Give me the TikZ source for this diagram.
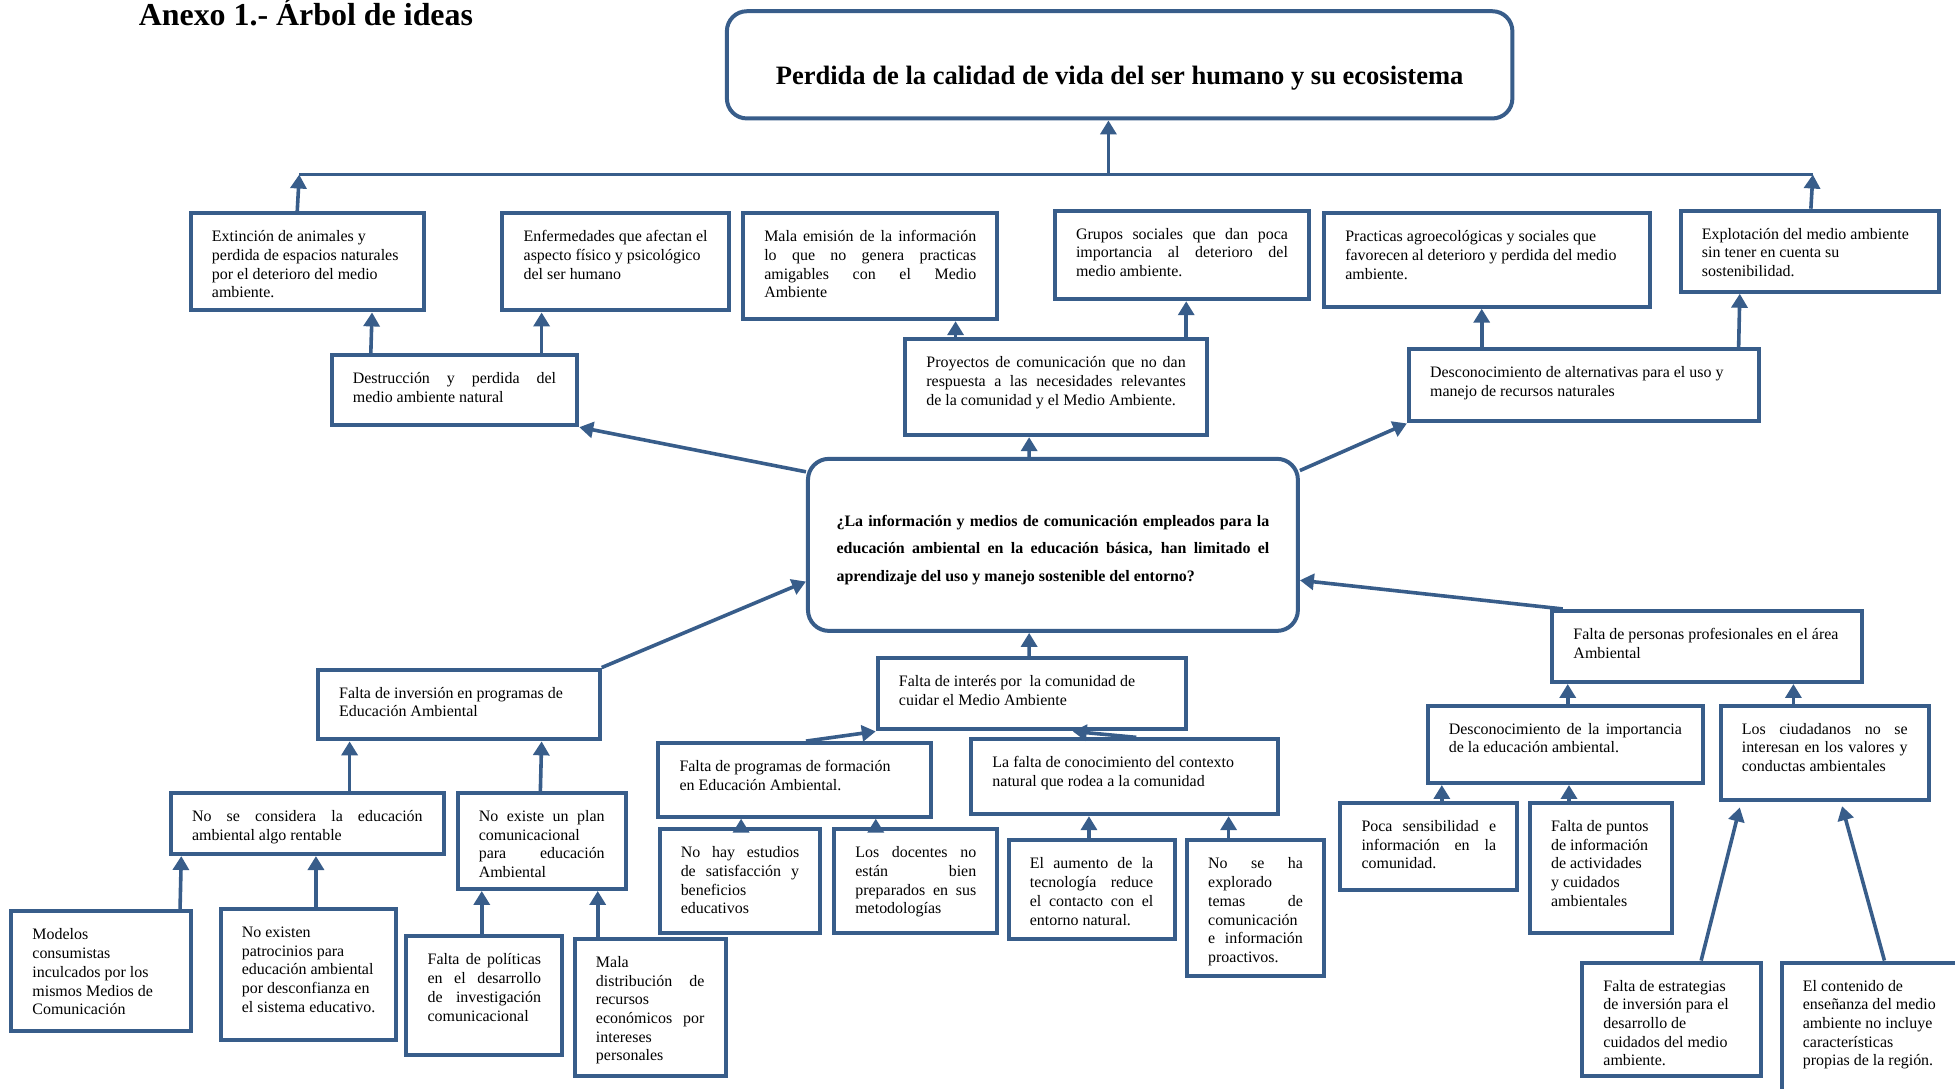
\documentclass[tikz,border=0pt]{standalone}
\usepackage{fontspec}
\setmainfont{Liberation Serif}
\usetikzlibrary{arrows.meta,calc}
\definecolor{bl}{HTML}{385D8A}
\newcommand\J[1]{\makebox[\linewidth][s]{#1}\\}
\newcommand\Lq[1]{\makebox[\linewidth][l]{#1}\\}
\newcommand\Le[1]{\makebox[\linewidth][l]{#1}}
\newcommand\bodysize{\fontsize{8}{9.375}\selectfont}
\tikzset{
  bxs/.style={draw=bl, line width=2pt, fill=white, inner sep=0pt},
  arr/.style={draw=bl, line width=1.8pt, -{Triangle[length=7pt,width=8pt]}},
  ln/.style={draw=bl, line width=1.8pt}
}
\newcommand\bx[6]{%
  \pgfmathsetmacro\bxW{(#4-#2)*0.625}%
  \pgfmathsetmacro\bxH{(#5-#3)*0.625}%
  \pgfmathsetmacro\bxT{\bxW-34*0.625}%
  \node[bxs, minimum width=\bxW pt, minimum height=\bxH pt] (#1) at ({(#2+#4)/2},{(#3+#5)/2})
    {\parbox[c][\bxH pt][t]{\bxT pt}{\bodysize\lineskiplimit=-5pt\lineskip=0pt\relax\rule{0pt}{14.3pt}#6}};%
}
\begin{document}
\begin{tikzpicture}[x=0.625pt, y=-0.625pt]
\clip (0,0) rectangle (1568,873);
\fill[white] (0,0) rectangle (1568,873);

% title
\node[anchor=base west, inner sep=0pt, font={\bfseries\fontsize{16}{19}\selectfont}] (title) at (111,20.5) {Anexo 1.- Árbol de ideas};

% top effect
\node[bxs, rounded corners=10pt, minimum width=393.75pt, minimum height=53.75pt] (top) at (898,52)
  {\parbox[c][53.75pt][t]{385pt}{\centering\rule{0pt}{36.9pt}\bfseries\fontsize{13.3}{16}\selectfont Perdida de la calidad de vida del ser humano y su ecosistema}};

% central problem
\node[bxs, rounded corners=10.5pt, minimum width=245.6pt, minimum height=86.25pt] (cen) at (844.5,437)
  {\parbox[c][86.25pt][t]{216.9pt}{\bfseries\fontsize{8}{14}\selectfont\lineskiplimit=-5pt\relax\rule{0pt}{33.7pt}\J{¿La información y medios de comunicación empleados para la}\J{educación ambiental en la educación básica, han limitado el}\Le{aprendizaje del uso y manejo sostenible del entorno?}}};

% effects row
\bx{b1}{153}{171}{340}{249}{\Lq{Extinción de animales y}\Lq{perdida de espacios naturales}\Lq{por el deterioro del medio}\Le{ambiente.}}
\bx{b2}{403}{171}{585}{249}{\Lq{Enfermedades que afectan el}\Lq{aspecto físico y psicológico}\Le{del ser humano}}
\bx{b3}{596}{171}{800}{256}{\J{Mala emisión de la información}\J{lo que no genera practicas}\J{amigables con el Medio}\Le{Ambiente}}
\bx{b4}{846}{169}{1050}{240}{\J{Grupos sociales que dan poca}\J{importancia al deterioro del}\Le{medio ambiente.}}
\bx{b5}{1062}{171}{1323}{246}{\Lq{Practicas agroecológicas y sociales que}\Lq{favorecen al deterioro y perdida del medio}\Le{ambiente.}}
\bx{b6}{1348}{169}{1555}{234}{\Lq{Explotación del medio ambiente}\Lq{sin tener en cuenta su}\Le{sostenibilidad.}}

% second row
\bx{destr}{266}{285}{463}{341}{\J{Destrucción y perdida del}\Le{medio ambiente natural}}
\bx{proy}{726}{272}{968}{349}{\J{Proyectos de comunicación que no dan}\J{respuesta a las necesidades relevantes}\Le{de la comunidad y el Medio Ambiente.}}
\bx{desalt}{1130}{280}{1411}{338}{\Lq{Desconocimiento de alternativas para el uso y}\Le{manejo de recursos naturales}}

% causes left
\bx{inv}{255}{537}{481}{593}{\Lq{Falta de inversión en programas de}\Le{Educación Ambiental}}
\bx{nocons}{137}{636}{356}{685}{\J{No se considera la educación}\Le{ambiental algo rentable}}
\bx{noplan}{367}{636}{502}{713}{\J{No existe un plan}\Lq{comunicacional}\J{para educación}\Le{Ambiental}}
\bx{model}{9}{731}{153}{827}{\Lq{Modelos}\Lq{consumistas}\Lq{inculcados por los}\Lq{mismos Medios de}\Le{Comunicación}}
\bx{patro}{177}{729}{318}{834}{\Lq{No existen}\Lq{patrocinios para}\Lq{educación ambiental}\Lq{por desconfianza en}\Le{el sistema educativo.}}
\bx{polit}{326}{751}{451}{846}{\J{Falta de políticas}\J{en el desarrollo}\J{de investigación}\Le{comunicacional}}
\bx{maldis}{461}{753}{582}{863}{\Lq{Mala}\J{distribución de}\Lq{recursos}\J{económicos por}\Lq{intereses}\Le{personales}}

% causes middle
\bx{inter}{704}{528}{951}{585}{\Lq{Falta de interés por\ \ la comunidad de}\Le{cuidar el Medio Ambiente}}
\bx{progr}{528}{596}{747}{655}{\Lq{Falta de programas de formación}\Le{en Educación Ambiental.}}
\bx{conoc}{779}{593}{1025}{653}{\Lq{La falta de conocimiento del contexto}\Le{natural que rodea a la comunidad}}
\bx{estud}{529}{665}{658}{748}{\J{No hay estudios}\J{de satisfacción y}\Lq{beneficios}\Le{educativos}}
\bx{docen}{669}{665}{800}{748}{\J{Los docentes no}\J{están bien}\J{preparados en sus}\Le{metodologías}}
\bx{aumen}{809}{674}{942}{753}{\J{El aumento de la}\J{tecnología reduce}\J{el contacto con el}\Le{entorno natural.}}
\bx{explo}{952}{674}{1062}{783}{\J{No se ha}\Lq{explorado}\J{temas de}\Lq{comunicación}\J{e información}\Le{proactivos.}}

% causes right
\bx{perso}{1245}{490}{1493}{547}{\Lq{Falta de personas profesionales en el área}\Le{Ambiental}}
\bx{desimp}{1145}{566}{1366}{628}{\J{Desconocimiento de la importancia}\Le{de la educación ambiental.}}
\bx{ciud}{1380}{566}{1547}{642}{\J{Los ciudadanos no se}\J{interesan en los valores y}\Le{conductas ambientales}}
\bx{poca}{1075}{644}{1217}{714}{\J{Poca sensibilidad e}\J{información en la}\Le{comunidad.}}
\bx{punt}{1227}{644}{1341}{748}{\Lq{Falta de puntos}\Lq{de información}\Lq{de actividades}\Lq{y cuidados}\Le{ambientales}}
\bx{estra}{1269}{772}{1412}{863}{\Lq{Falta de estrategias}\Lq{de inversión para el}\Lq{desarrollo de}\Lq{cuidados del medio}\Le{ambiente.}}
\bx{conte}{1429}{772}{1580}{885}{\Lq{El contenido de}\Lq{enseñanza del medio}\Lq{ambiente no incluye}\Lq{características}\Le{propias de la región.}}

% top connectors
\coordinate (jl) at (240,140);
\coordinate (jr) at (1454,140);
\coordinate (jm) at (889,140);
\draw[ln] (jl) -- (jr);
\draw[arr] (jm) -- (top.south -| jm);
\draw[arr] ($(b1.north west)+(87,0)$) -- (jl);
\draw[arr] ($(b6.north west)+(106,0)$) -- (jr);

% second row to effects
\draw[arr] ($(destr.north west)+(33,0)$) -- ($(b1.south west)+(147,0)$);
\draw[arr] ($(destr.north west)+(170,0)$) -- ($(b2.south west)+(33,0)$);
\draw[arr] ($(proy.north west)+(42,0)$) -- ($(b3.south west)+(172,0)$);
\draw[arr] ($(proy.north west)+(227,0)$) -- ($(b4.south west)+(107,0)$);
\draw[arr] ($(desalt.north west)+(60,0)$) -- ($(b5.south west)+(128,0)$);
\draw[arr] ($(desalt.north west)+(266,3)$) -- ($(b6.south west)+(49,0)$);

% central
\draw[arr] ($(cen.north west)+(0,12)$) -- (destr.south east);
\draw[arr] ($(cen.north west)+(179,0)$) -- ($(proy.south west)+(101,0)$);
\draw[arr] ($(cen.north east)+(0,11)$) -- (desalt.south west);
\draw[arr] (inv.north east) -- ($(cen.north west)+(0,100)$);
\draw[arr] ($(inter.north west)+(123,0)$) -- ($(cen.south west)+(179,0)$);
\draw[arr] ($(perso.north west)+(10,0)$) -- ($(cen.north east)+(0,99)$);

% left causes
\draw[arr] ($(nocons.north west)+(145,0)$) -- ($(inv.south west)+(27,0)$);
\draw[arr] ($(noplan.north west)+(68,0)$) -- ($(inv.south west)+(181,0)$);
\draw[arr] ($(model.north west)+(137,0)$) -- ($(nocons.south west)+(10,0)$);
\draw[arr] ($(patro.north west)+(78,0)$) -- ($(nocons.south west)+(118,0)$);
\draw[arr] ($(polit.north west)+(62,0)$) -- ($(noplan.south west)+(21,0)$);
\draw[arr] ($(maldis.north west)+(20,0)$) -- ($(noplan.south west)+(114,0)$);

% middle causes
\draw[arr] ($(progr.north west)+(120,0)$) -- (inter.south west);
\draw[arr] ($(conoc.north west)+(134,0)$) -- ($(inter.south west)+(158,0)$);
\draw[arr] ($(estud.north west)+(67,0)$) -- ($(progr.south west)+(68,0)$);
\draw[arr] ($(docen.north west)+(35,0)$) -- ($(progr.south west)+(176,0)$);
\draw[arr] ($(aumen.north west)+(66,0)$) -- ($(conoc.south west)+(96,0)$);
\draw[arr] ($(explo.north west)+(35,0)$) -- ($(conoc.south west)+(208,0)$);

% right causes
\draw[arr] ($(desimp.north west)+(114,0)$) -- ($(perso.south west)+(14,0)$);
\draw[arr] ($(ciud.north west)+(60,0)$) -- ($(perso.south west)+(195,0)$);
\draw[arr] ($(poca.north west)+(83,0)$) -- ($(desimp.south west)+(13,0)$);
\draw[arr] ($(punt.north west)+(33,0)$) -- ($(desimp.south west)+(115,0)$);
\draw[arr] ($(estra.north west)+(97,0)$) -- ($(ciud.south west)+(17,4)$);
\draw[arr] ($(conte.north west)+(84,0)$) -- ($(ciud.south west)+(99,3)$);
\end{tikzpicture}
\end{document}
